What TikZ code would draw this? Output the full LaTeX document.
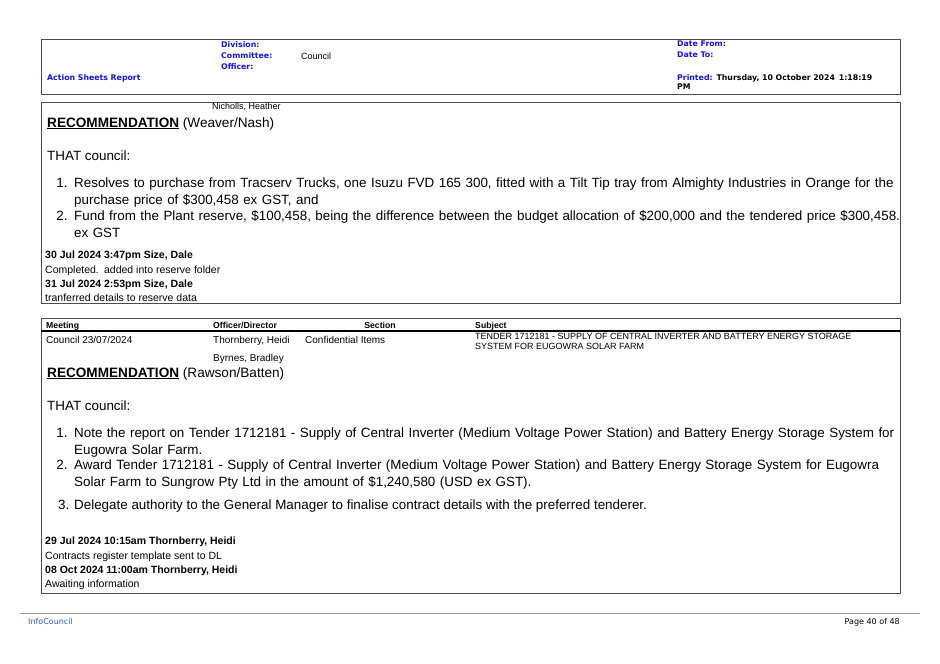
\documentclass[tikz,border=0pt]{standalone}
\usepackage{fontspec}
\setmainfont{Liberation Sans}
\newfontfamily\verd{DejaVu Sans}
\usepackage{xcolor}
\definecolor{hblue}{RGB}{20,20,230}
\definecolor{fblue}{RGB}{40,90,200}
\begin{document}
\begin{tikzpicture}[x=1pt,y=-1pt,
  t/.style={anchor=north west,inner sep=0pt,font=\fontsize{9}{10.5}\selectfont},
  tc/.style={anchor=north west,inner sep=0pt,font=\fontsize{10}{11.5}\selectfont},
  nt/.style={anchor=north west,inner sep=0pt,font=\fontsize{10.5}{12}\selectfont},
  hb/.style={anchor=north west,inner sep=0pt,font=\verd\bfseries\fontsize{7.8}{9}\selectfont,text=hblue},
  body/.style={anchor=north west,inner sep=0pt,font=\fontsize{13.4}{17}\selectfont,align=left},
  bold8/.style={anchor=north west,inner sep=0pt,font=\bfseries\fontsize{10.5}{12}\selectfont},
  th/.style={anchor=north west,inner sep=0pt,font=\bfseries\fontsize{8.7}{10}\selectfont},
  box/.style={draw=black!70,line width=0.9pt}]
\useasboundingbox (0,0) rectangle (940,664);
\fill[white] (0,0) rectangle (940,664);
% header box
\draw[box] (41,39) rectangle (900,94);
\node[hb] (div) at (221,41) {Division:};
\node[hb] (com) at (221,52) {Committee:};
\node[hb] (off) at (221,63) {Officer:};
\node[t] (cou) at (301,53) {Council};
\node[hb] (asr) at (47,74) {Action Sheets Report};
\node[hb] (df) at (677,41) {Date From:};
\node[hb] (dt) at (677,52) {Date To:};
\node[hb,align=left,text width=205pt] (pr) at (677,74) {Printed: \textcolor{black}{Thursday, 10 October 2024\enspace 1:18:19\\PM}};
% box 2
\draw[box] (41,102) rectangle (900,303);
\node[t] (nh) at (212,103) {Nicholls, Heather};
\node[body,font=\fontsize{13.6}{16}\selectfont] (r1) at (47,117) {\textbf{\underline{RECOMMENDATION}} (Weaver/Nash)};
\node[body] (th1) at (47,151) {THAT council:};
\node[body,text width=880pt] (i1) at (47,178) {\hspace*{27pt}\llap{1. }Resolves to purchase from Tracserv Trucks, one Isuzu FVD 165 300, fitted with a Tilt Tip tray from Almighty Industries in Orange for the\\\hspace*{27pt}purchase price of \$300,458 ex GST, and};
\node[body,text width=880pt] (i2) at (47,210) {\hspace*{27pt}\llap{2. }Fund from the Plant reserve, \$100,458, being the difference between the budget allocation of \$200,000 and the tendered price \$300,458.\\\hspace*{27pt}ex GST};
\node[bold8] (n1) at (45,251) {30 Jul 2024 3:47pm Size, Dale};
\node[nt] (n2) at (45,266) {Completed.\enspace added into reserve folder};
\node[bold8] (n3) at (45,280) {31 Jul 2024 2:53pm Size, Dale};
\node[nt] (n4) at (45,294) {tranferred details to reserve data};
% table
\draw[box] (41,318) rectangle (900,593);
\draw[line width=1.8pt] (41,331) -- (900,331);
\node[th] (h1) at (46,322) {Meeting};
\node[th] (h2) at (213,322) {Officer/Director};
\node[th,anchor=north] (h3) at (380,322) {Section};
\node[th] (h4) at (475,322) {Subject};
\node[tc] (c1) at (46,336) {Council 23/07/2024};
\node[tc] (c2) at (213,336) {Thornberry, Heidi};
\node[tc] (c3) at (305,336) {Confidential Items};
\node[t,align=left] (c4) at (475,333) {TENDER 1712181 - SUPPLY OF CENTRAL INVERTER AND BATTERY ENERGY STORAGE\\SYSTEM FOR EUGOWRA SOLAR FARM};
\node[tc] (c5) at (213,354) {Byrnes, Bradley};
\node[body,font=\fontsize{13.6}{16}\selectfont] (r2) at (47,367) {\textbf{\underline{RECOMMENDATION}} (Rawson/Batten)};
\node[body] (th2) at (47,401) {THAT council:};
\node[body,text width=880pt] (j1) at (47,428) {\hspace*{27pt}\llap{1. }Note the report on Tender 1712181 - Supply of Central Inverter (Medium Voltage Power Station) and Battery Energy Storage System for\\\hspace*{27pt}Eugowra Solar Farm.};
\node[body,text width=880pt] (j2) at (47,460) {\hspace*{27pt}\llap{2. }Award Tender 1712181 - Supply of Central Inverter (Medium Voltage Power Station) and Battery Energy Storage System for Eugowra\\\hspace*{27pt}Solar Farm to Sungrow Pty Ltd in the amount of \$1,240,580 (USD ex GST).};
\node[body] (j3) at (47,500) {\hspace*{27pt}\llap{3. }Delegate authority to the General Manager to finalise contract details with the preferred tenderer.};
\node[bold8] (m1) at (45,537) {29 Jul 2024 10:15am Thornberry, Heidi};
\node[nt] (m2) at (45,552) {Contracts register template sent to DL};
\node[bold8] (m3) at (45,566) {08 Oct 2024 11:00am Thornberry, Heidi};
\node[nt] (m4) at (45,580) {Awaiting information};
% footer
\draw[black!40,line width=0.6pt] (20,613) -- (920,613);
\node[t,font=\verd\fontsize{8}{9}\selectfont,text=fblue] (ic) at (28,618) {InfoCouncil};
\node[t,font=\verd\fontsize{8}{9}\selectfont,anchor=north east] (pg) at (900,618) {Page 40 of 48};
\end{tikzpicture}
\end{document}
